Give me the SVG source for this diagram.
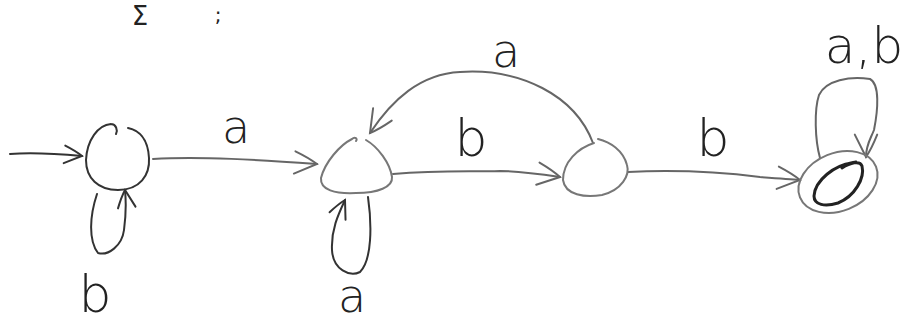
<svg xmlns="http://www.w3.org/2000/svg" width="915" height="329" viewBox="0 0 915 329">
<style>
.st{fill:none;stroke:#333;stroke-width:2;stroke-linecap:round;stroke-linejoin:round}
.lt{fill:none;stroke:#777;stroke-width:2;stroke-linecap:round;stroke-linejoin:round}
.ed{fill:none;stroke:#666;stroke-width:2;stroke-linecap:round;stroke-linejoin:round}
.lb{font-family:"DejaVu Sans","Liberation Sans",sans-serif;font-weight:200;fill:#222;text-anchor:middle}
.tp{font-family:"DejaVu Sans","Liberation Sans",sans-serif;fill:#222;text-anchor:middle}
</style>
<defs>
<marker id="arr" viewBox="0 0 20 20" refX="18" refY="10" markerWidth="28" markerHeight="28" markerUnits="userSpaceOnUse" orient="auto">
<path d="M2,2 Q12,6 18,10 Q10,14 2,18" fill="none" stroke="#666" stroke-width="1.4" stroke-linecap="round"/>
</marker>
<marker id="arrd" viewBox="0 0 20 20" refX="18" refY="10" markerWidth="22" markerHeight="22" markerUnits="userSpaceOnUse" orient="auto">
<path d="M2,2 Q12,6 18,10 Q10,14 2,18" fill="none" stroke="#333" stroke-width="1.8" stroke-linecap="round"/>
</marker>
</defs>
<rect width="915" height="329" fill="#fff"/>
<text class="tp" x="140" y="25" font-size="26">Σ</text>
<text class="tp" x="218" y="22" font-size="20">;</text>
<g id="connectors">
<path class="st" d="M10,154 C35,152 60,154 82,156" marker-end="url(#arrd)"/>
<path class="st" d="M97,194 C90,215 88,240 98,253 C108,256 122,246 124,230 C126,215 126,200 125,190" marker-end="url(#arrd)"/>
<path class="ed" d="M153,159 C200,156 260,160 317,164" marker-end="url(#arr)"/>
<path class="st" d="M368,197 C372,225 372,260 360,272 C350,277 333,270 332,250 C331,230 338,215 345,200" marker-end="url(#arrd)"/>
<path class="ed" d="M593,143 C575,95 520,68 460,72 C420,74 392,100 370,133" marker-end="url(#arr)"/>
<path class="ed" d="M393,174 C440,170 470,172 500,171 C520,171 540,174 560,177" marker-end="url(#arr)"/>
<path class="ed" d="M628,172 C670,170 720,172 760,177 C775,178 790,179 800,180" marker-end="url(#arr)"/>
<path class="ed" d="M820,158 C815,140 814,110 819,95 C826,80 850,76 870,79 C880,84 878,110 874,130 C870,140 866,145 866,157" marker-end="url(#arr)"/>
</g>
<g id="q0">
<path class="st" d="M111,124 C98,125 87,140 86,160 C86,178 98,190 118,190 C140,190 150,175 149,158 C148,138 138,130 128,128 M111,124 C116,124 118,130 116,134"/>
</g>
<g id="q1">
<path class="lt" d="M352,139 C340,145 325,162 321,178 C320,190 335,194 356,193 C378,193 393,187 392,177 C390,163 378,147 366,140 M352,139 C355,136 358,139 356,141"/>
</g>
<g id="q2">
<path class="lt" d="M594,143 C578,148 563,162 563,180 C565,195 585,198 602,195 C622,190 630,175 627,165 C623,150 610,142 598,139"/>
</g>
<g id="q3">
<ellipse class="lt" cx="838" cy="182" rx="41" ry="29" transform="rotate(-22 838 182)"/>
<path d="M852,163 C835,165 815,180 814,196 C814,205 825,207 838,203 C855,196 865,178 862,166 C860,160 850,163 842,168 C845,163 852,163 856,162" fill="none" stroke="#222" stroke-width="3" stroke-linecap="round" stroke-linejoin="round"/>
</g>
<g id="labels">
<text class="lb" x="95" y="312" font-size="52">b</text>
<text class="lb" x="236" y="143" font-size="46">a</text>
<text class="lb" x="352" y="312" font-size="46">a</text>
<text class="lb" x="471" y="156" font-size="52">b</text>
<text class="lb" x="506" y="67" font-size="46">a</text>
<text class="lb" x="713" y="156" font-size="52">b</text>
<text class="lb" x="864" y="63" font-size="50">a,b</text>
</g>
</svg>
